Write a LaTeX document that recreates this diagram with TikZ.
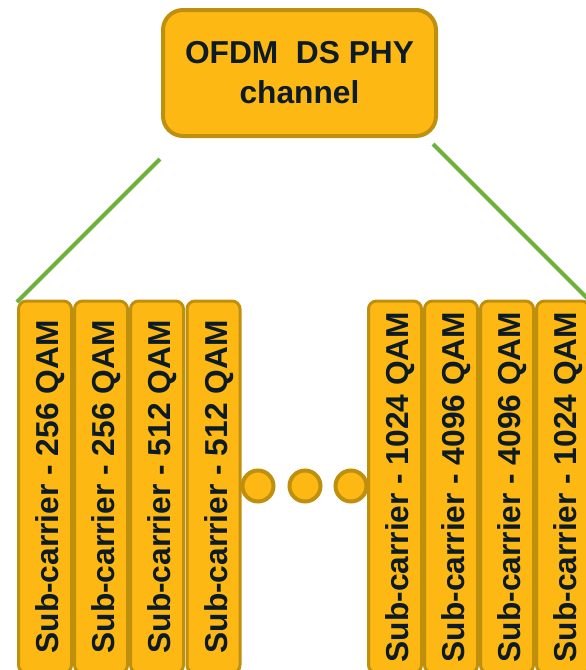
\documentclass[tikz,border=0pt]{standalone}
\usepackage{fontspec}
\setmainfont{Liberation Sans}
\definecolor{boxfill}{RGB}{253,184,19}
\definecolor{boxline}{RGB}{191,143,14}
\definecolor{txt}{RGB}{13,27,38}
\definecolor{lgreen}{RGB}{109,178,62}
\tikzset{
  topbox/.style={draw=boxline, fill=boxfill, line width=4pt, rounded corners=20pt,
    minimum width=273pt, minimum height=126pt, align=center, text=txt,
    font=\fontsize{31.7}{40}\selectfont\bfseries, inner sep=0pt},
  subbox/.style={draw=boxline, fill=boxfill, line width=3pt, rounded corners=8pt,
    rotate=90, minimum width=372pt, minimum height=53pt, inner sep=0pt, text=txt,
    text height=30pt, text depth=2.2pt,
    font=\fontsize{31.7}{38}\selectfont\bfseries},
  dot/.style={circle, draw=boxline, fill=boxfill, line width=4pt, minimum size=31pt, inner sep=0pt},
  link/.style={draw=lgreen, line width=4pt}
}
\begin{document}
\begin{tikzpicture}[x=1pt,y=-1pt]
\useasboundingbox (0,0) rectangle (586,670);
\clip (0,0) rectangle (586,670);
\fill[white] (0,0) rectangle (586,670);
% top box
\node[topbox] (top) at (299.5,73) {OFDM\ \ DS PHY\\channel};
% connectors
\coordinate (la) at (160,159);
\coordinate (lb) at (17,302);
\coordinate (ra) at (433,144);
\coordinate (rb) at (600,311);
\draw[link] (la) -- (lb);
\draw[link] (ra) -- (rb);
% dots
\node[dot] (d1) at (258,486) {};
\node[dot] (d2) at (305,486) {};
\node[dot] (d3) at (351,486) {};
% left group
\node[subbox] (s1) at (45,487) {Sub-carrier - 256 QAM};
\node[subbox] (s2) at (101,487) {Sub-carrier - 256 QAM};
\node[subbox] (s3) at (157,487) {Sub-carrier - 512 QAM};
\node[subbox] (s4) at (213.5,487) {Sub-carrier - 512 QAM};
% right group
\node[subbox] (s5) at (395,487) {Sub-carrier - 1024 QAM};
\node[subbox] (s6) at (451,487) {Sub-carrier - 4096 QAM};
\node[subbox] (s7) at (507,487) {Sub-carrier - 4096 QAM};
\node[subbox] (s8) at (563,487) {Sub-carrier - 1024 QAM};
\end{tikzpicture}
\end{document}
